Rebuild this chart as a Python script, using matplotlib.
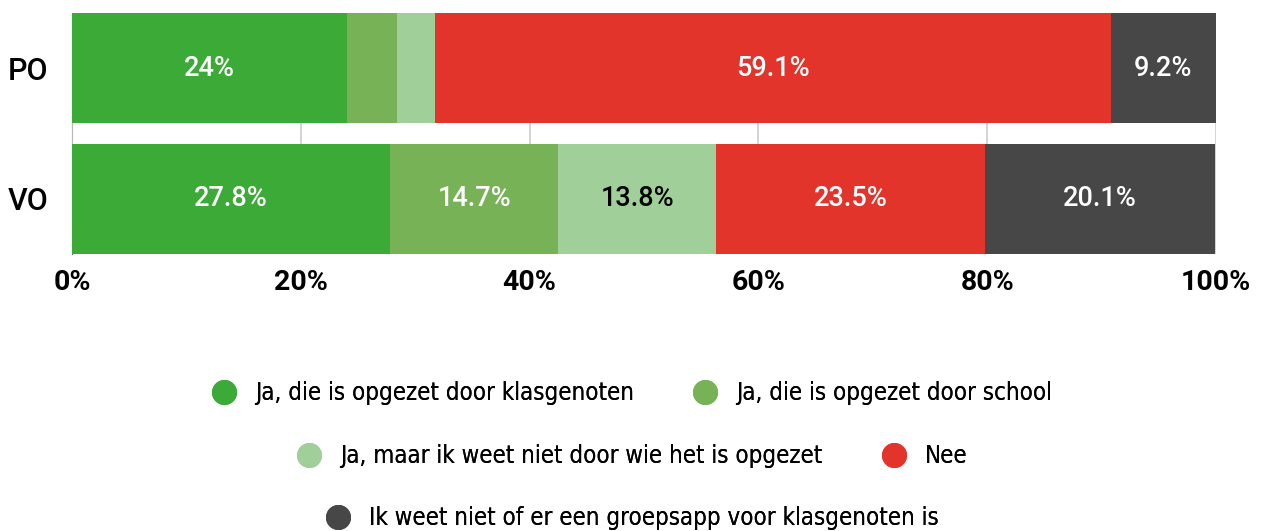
import matplotlib
matplotlib.use("Agg")
import matplotlib.pyplot as plt
from matplotlib.lines import Line2D

categories = ["PO", "VO"]
series_names = [
    "Ja, die is opgezet door klasgenoten",
    "Ja, die is opgezet door school",
    "Ja, maar ik weet niet door wie het is opgezet",
    "Nee",
    "Ik weet niet of er een groepsapp voor klasgenoten is",
]
values = [
    [24.0, 27.8],
    [4.4, 14.7],
    [3.3, 13.8],
    [59.1, 23.5],
    [9.2, 20.1],
]
show_label = [
    [True, True],
    [False, True],
    [False, True],
    [True, True],
    [True, True],
]
colors = ["#3caa36", "#78b257", "#a0cf9a", "#e3342b", "#474747"]
label_colors = ["white", "white", "black", "white", "white"]
xticks = [0, 20, 40, 60, 80, 100]

fig = plt.figure(figsize=(12.62, 5.31), dpi=100)
ax = fig.add_axes([72/1262, 1-254/531, (1216-72)/1262, (254-13)/531])

ypos = list(range(len(categories)))
height = 110/130
left = [0.0]*len(categories)
for i, name in enumerate(series_names):
    bars = ax.barh(ypos, values[i], left=left, height=height, color=colors[i],
                   label=name, zorder=3)
    for j, b in enumerate(bars):
        if show_label[i][j]:
            v = values[i][j]
            txt = f"{v:g}%"
            ax.text(left[j] + v/2, ypos[j], txt, ha="center", va="center",
                    color=label_colors[i], fontsize=19.5, fontweight="medium",
                    family="Roboto", zorder=4)
    left = [l + v for l, v in zip(left, values[i])]

ax.set_xlim(0, 100)
ax.set_ylim(1 + height/2, -height/2)
ax.set_yticks(ypos)
ax.set_yticklabels(categories, fontsize=22, family="Roboto", fontweight="medium")
ax.set_xticks(xticks)
ax.set_xticklabels([f"{t}%" for t in xticks], fontsize=20.5, fontweight="bold",
                   family="Roboto")
ax.tick_params(axis="x", length=0, pad=11)
ax.tick_params(axis="y", length=0, pad=17)
ax.grid(axis="x", color="#cccccc", linewidth=1.2, zorder=0)
for s in ["top", "right", "bottom"]:
    ax.spines[s].set_visible(False)
ax.spines["left"].set_color("#666666")
ax.spines["left"].set_zorder(1)

handles = [Line2D([0], [0], marker="o", linestyle="none", markersize=17,
                  markerfacecolor=c, markeredgecolor=c) for c in colors]
rows = [([0, 1], 1-393/531), ([2, 3], 1-456/531), ([4], 1-518/531)]
for idx, yc in rows:
    leg = fig.legend([handles[k] for k in idx], [series_names[k] for k in idx],
                     loc="center", bbox_to_anchor=(626/1262, yc), ncol=len(idx),
                     frameon=False, handletextpad=0.3, columnspacing=2.0,
                     prop={"family": "DejaVu Sans", "size": 17.2, "stretch": "condensed"})
    fig.add_artist(leg)

fig.savefig("out.png", dpi=100)
